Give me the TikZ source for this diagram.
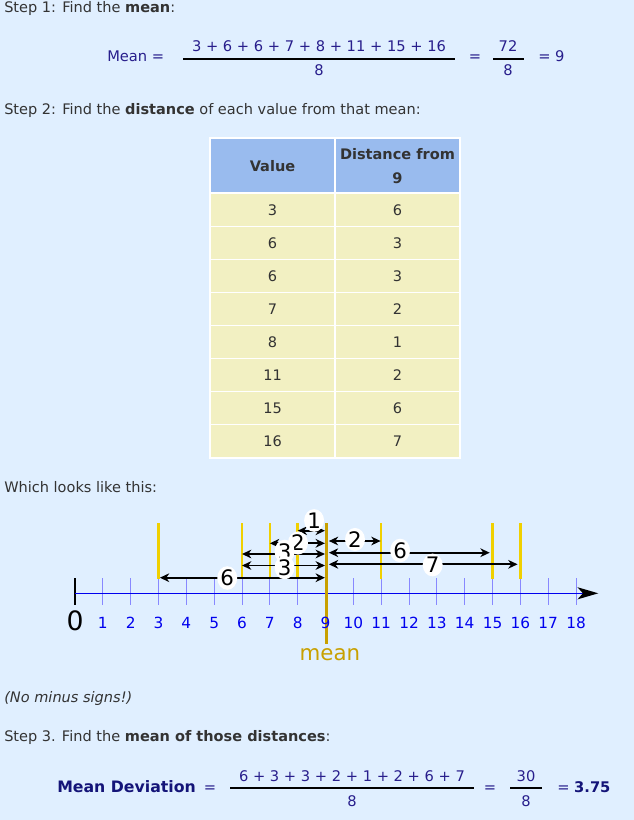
\documentclass[tikz,border=0pt]{standalone}
\usepackage{fontspec}
\setmainfont{DejaVu Sans}
\usetikzlibrary{arrows.meta,shapes.geometric}
\definecolor{bg}{HTML}{E0EFFF}
\definecolor{hdr}{HTML}{99BBEE}
\definecolor{cellc}{HTML}{F2F0C2}
\definecolor{navy}{RGB}{40,30,140}
\definecolor{navyb}{RGB}{20,20,120}
\definecolor{txt}{HTML}{333333}
\definecolor{gold}{RGB}{200,160,0}
\definecolor{yel}{RGB}{240,208,0}
\definecolor{tickc}{HTML}{8888FF}
\definecolor{axisc}{HTML}{0000EE}
\definecolor{numc}{HTML}{0000EE}
\begin{document}
\begin{tikzpicture}[x=0.75pt,y=-0.75pt,
  body/.style={inner sep=0, anchor=base west, text=txt, font=\fontsize{10.9}{13}\selectfont},
  formula/.style={inner sep=0, anchor=base, text=navy, font=\fontsize{11}{13}\selectfont},
  fracline/.style={draw=black, line width=0.9pt},
  hcell/.style={fill=hdr, minimum width=92.25pt, minimum height=40pt, inner sep=0, align=center, text=txt, font=\fontsize{10.9}{18}\selectfont\bfseries},
  bcell/.style={fill=cellc, minimum width=92.25pt, minimum height=23.55pt, inner sep=0, text=txt, font=\fontsize{10.9}{13}\selectfont},
  tickmark/.style={draw=tickc, line width=0.75pt},
  ticklbl/.style={text=numc, inner sep=0, font=\fontsize{11.5}{12}\selectfont},
  valline/.style={draw=yel, line width=1.9pt},
  meanline/.style={draw=gold, line width=2.8pt},
  axisline/.style={draw=axisc, line width=1.1pt, -{Stealth[length=15.5pt,width=9pt,inset=4pt,color=black]}},
  distarrow/.style={draw=black, line width=1.4pt, {Stealth[length=7pt,width=6.5pt,inset=2.2pt]}-{Stealth[length=7pt,width=6.5pt,inset=2.2pt]}},
  distlabel/.style={ellipse, fill=white, inner sep=0.2pt, font=\fontsize{16}{16}\selectfont}
]
\fill[bg] (0,0) rectangle (634,820);
\useasboundingbox (0,0) rectangle (634,820);

% Step 1
\node[body] (s1) at (4,13) {Step 1: Find the \textbf{mean}:};
\node[formula, anchor=base west] (meanlbl) at (107,62) {Mean =};
\node[formula] (num1) at (319,52) {3 + 6 + 6 + 7 + 8 + 11 + 15 + 16};
\node[formula] (den1) at (319,76) {8};
\draw[fracline] (183,59) -- (455,59);
\node[formula] (eq1) at (475,62) {=};
\node[formula] (num1b) at (508,52) {72};
\node[formula] (den1b) at (508,76) {8};
\draw[fracline] (493,59) -- (524,59);
\node[formula, anchor=base west] (res1) at (538,62) {= 9};

% Step 2
\node[body] (s2) at (4,115) {Step 2: Find the \textbf{distance} of each value from that mean:};

% Table
\fill[white] (209,137) rectangle (461,458.5);
\node[hcell] (h1) at (272.5,165.7) {Value};
\node[hcell] (h2) at (397.5,165.7) {Distance from\\9};
\foreach \i/\a/\b in {0/3/6,1/6/3,2/6/3,3/7/2,4/8/1,5/11/2,6/15/6,7/16/7}{
  \node[bcell] (va\i) at (272.5,{210+33*\i}) {\a};
  \node[bcell] (vb\i) at (397.5,{210+33*\i}) {\b};
}

\node[body] (s3) at (4,492) {Which looks like this:};

% Number line
\begin{scope}[shift={(56.25pt,0pt)}, x=20.875pt]
  \foreach \v in {1,...,18} \draw[tickmark] (\v,578) -- (\v,605);
  \draw[black, line width=0.8pt] (0,578) -- (0,605);
  \coordinate (axs) at (0,593.3);
  \coordinate (axe) at (18.8,593.3);
  \draw[axisline] (axs) -- (axe);
  \foreach \v in {3,6,7,8,11,15,16} \draw[valline] (\v,523) -- (\v,579);
  % arrows left of mean
  \coordinate (a1l) at (8,530.7);   \coordinate (a1r) at (8.98,530.7);
  \coordinate (a2l) at (7,543.3);   \coordinate (a2r) at (8.98,543.3);
  \coordinate (a3l) at (6,554);     \coordinate (a3r) at (8.98,554);
  \coordinate (a4l) at (6,565.5);   \coordinate (a4r) at (8.98,565.5);
  \coordinate (a5l) at (3.05,577.7);\coordinate (a5r) at (8.98,577.7);
  % arrows right of mean
  \coordinate (b1l) at (9.12,541);  \coordinate (b1r) at (10.98,541);
  \coordinate (b2l) at (9.12,552.7);\coordinate (b2r) at (14.9,552.7);
  \coordinate (b3l) at (9.12,564.3);\coordinate (b3r) at (15.9,564.3);
  \foreach \p in {a1,a2,a3,a4,a5,b1,b2,b3} \draw[distarrow] (\p l) -- (\p r);
  \node[distlabel] (la1) at (8.59,520.5) {1};
  \node[distlabel] (la2) at (8.01,543) {2};
  \node[distlabel] (la3) at (7.53,551.5) {3};
  \node[distlabel] (la4) at (7.53,567.5) {3};
  \node[distlabel] (la5) at (5.47,578) {6};
  \node[distlabel] (lb1) at (10.06,539.5) {2};
  \node[distlabel] (lb2) at (11.68,550.5) {6};
  \node[distlabel] (lb3) at (12.85,565) {7};
  \draw[meanline] (9.04,523) -- (9.04,644);
  \node[inner sep=0, font=\fontsize{20}{20}\selectfont] (n0) at (0,621) {0};
  \foreach \v in {1,...,18} \node[ticklbl] (n\v) at (\v,623) {\v};
  \node[inner sep=0, text=gold, font=\fontsize{16}{16}\selectfont] (meanword) at (9.16,655) {mean};
\end{scope}

\node[body] (s4) at (4,702) {\textit{(No minus signs!)}};
\node[body] (s5) at (4,741) {Step 3. Find the \textbf{mean of those distances}:};

% Mean deviation formula
\node[formula, anchor=base west, text=navyb, font=\fontsize{11.8}{13}\selectfont\bfseries] (mdlbl) at (57,792) {Mean Deviation};
\node[formula] (eq2a) at (210,792) {=};
\node[formula] (num2) at (352,781) {6 + 3 + 3 + 2 + 1 + 2 + 6 + 7};
\node[formula] (den2) at (352,806) {8};
\draw[fracline] (230,788) -- (474,788);
\node[formula] (eq2) at (490,792) {=};
\node[formula] (num2b) at (526,781) {30};
\node[formula] (den2b) at (526,806) {8};
\draw[fracline] (510,788) -- (542,788);
\node[formula, anchor=base west] (res2) at (557,792) {= \textcolor{navyb}{\bfseries 3.75}};
\end{tikzpicture}
\end{document}
